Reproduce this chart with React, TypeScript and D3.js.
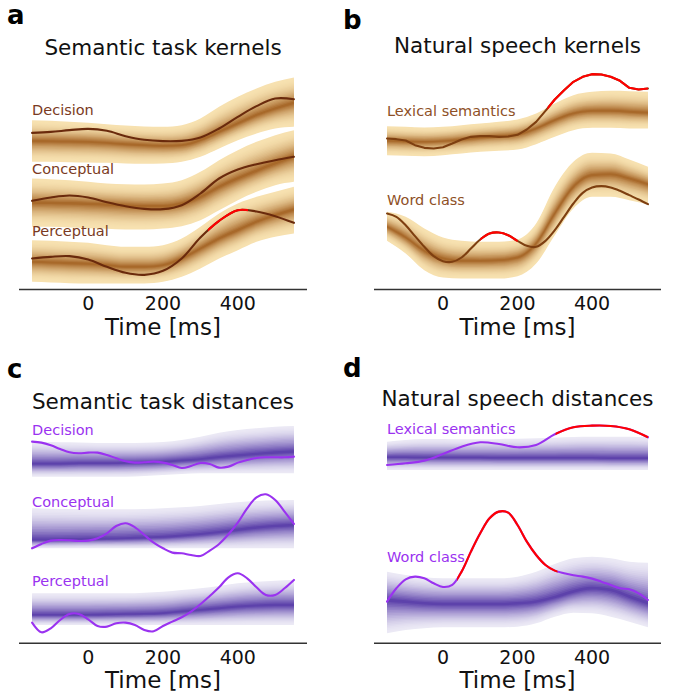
import React from "react";
import * as d3 from "d3";

// ---------- DATA ----------
const T50 = [-150, -100, -50, 0, 50, 100, 150, 200, 250, 300, 350, 400, 450, 500, 550];
const T25 = [-150, -125, -100, -75, -50, -25, 0, 25, 50, 75, 100, 125, 150, 175, 200, 225, 250, 275, 300, 325, 350, 375, 400, 425, 450, 475, 500, 525, 550];
const TICKS = [0, 200, 400];
const X_DOMAIN = [-185, 585];

// Panel a: Semantic task kernels (arbitrary units, stacked)
const aDecisionLine = [470, 473, 478, 482, 476, 460, 449, 445, 446, 456, 483, 518, 550, 573, 571];
const aDecisionMid = [446, 445, 444, 443, 440, 436, 433, 431, 433, 448, 473, 498, 523, 543, 560];
const aDecisionHi = [508, 506, 503, 500, 496, 492, 489, 488, 493, 513, 548, 578, 603, 623, 636];
const aDecisionLo = [383, 383, 382, 381, 380, 378, 377, 378, 383, 398, 423, 448, 468, 483, 488];

const aConceptualLine = [266, 276, 282, 276, 262, 250, 242, 241, 253, 288, 333, 360, 376, 388, 398];
const aConceptualMid = [261, 260, 259, 257, 255, 252, 250, 250, 258, 278, 308, 333, 356, 378, 400];
const aConceptualHi = [333, 331, 328, 323, 318, 316, 315, 318, 328, 353, 388, 418, 443, 463, 478];
const aConceptualLo = [188, 188, 186, 184, 182, 180, 180, 183, 190, 208, 238, 268, 293, 313, 323];

const aPerceptualLine = [93, 98, 100, 90, 68, 50, 44, 56, 93, 156, 206, 238, 234, 220, 200];
const aPerceptualMid = [83, 81, 79, 77, 73, 68, 68, 73, 93, 123, 153, 178, 203, 223, 240];
const aPerceptualHi = [148, 146, 143, 140, 133, 128, 128, 133, 153, 188, 228, 258, 278, 293, 308];
const aPerceptualLo = [23, 21, 19, 18, 18, 18, 18, 23, 38, 63, 93, 118, 143, 158, 168];
const aPerceptualSig = [320, 422];

// Panel b: Natural speech kernels
const bLexicalLine = [453, 451, 447, 433, 425, 423, 427, 438, 450, 458, 460, 460, 458, 459, 464, 480, 503, 536, 570, 598, 623, 638, 646, 645, 638, 626, 605, 600, 603];
const bLexicalMid = [446, 444, 443, 445, 450, 456, 460, 465, 483, 508, 528, 536, 536, 533, 530];
const bLexicalHi = [490, 488, 486, 488, 493, 498, 503, 510, 528, 558, 583, 593, 596, 595, 593];
const bLexicalLo = [403, 401, 400, 403, 408, 413, 416, 420, 436, 458, 478, 485, 485, 483, 483];
const bLexicalSig = [280, 550];

const bWordLine = [228, 218, 193, 160, 128, 100, 85, 83, 96, 123, 150, 168, 171, 163, 146, 131, 128, 146, 178, 218, 258, 290, 306, 310, 306, 296, 283, 270, 256];
const bWordMid = [188, 156, 116, 93, 86, 86, 88, 96, 138, 228, 308, 343, 346, 333, 316];
const bWordHi = [233, 218, 183, 156, 146, 143, 143, 150, 198, 308, 383, 410, 408, 390, 368];
const bWordLo = [146, 108, 58, 36, 33, 33, 33, 40, 78, 163, 243, 278, 278, 268, 256];
const bWordSig = [100, 195];

// Panel c: Semantic task distances
const cDecisionLine = [605, 602, 594, 583, 573, 570, 572, 572, 565, 555, 546, 542, 543, 545, 542, 535, 526, 532, 541, 538, 527, 530, 542, 550, 556, 558, 558, 558, 560];
const cDecisionMid = [538, 538, 539, 540, 540, 541, 542, 544, 548, 552, 558, 563, 568, 572, 575];
const cDecisionHi = [605, 604, 603, 602, 601, 601, 602, 604, 610, 620, 632, 640, 645, 650, 652];
const cDecisionLo = [500, 500, 500, 500, 500, 500, 502, 505, 508, 510, 510, 510, 510, 510, 510];

const cConceptualLine = [285, 298, 308, 310, 309, 307, 308, 315, 330, 352, 360, 348, 325, 302, 285, 272, 270, 265, 262, 278, 298, 327, 362, 405, 438, 447, 430, 395, 358];
const cConceptualMid = [310, 310, 311, 312, 313, 314, 316, 318, 322, 327, 333, 340, 347, 352, 355];
const cConceptualHi = [405, 404, 403, 402, 402, 402, 403, 405, 408, 412, 418, 423, 427, 429, 430];
const cConceptualLo = [285, 285, 285, 285, 285, 285, 285, 285, 285, 285, 285, 285, 285, 285, 285];

const cPerceptualLine = [62, 33, 45, 70, 88, 88, 72, 52, 50, 60, 62, 55, 40, 36, 52, 65, 78, 95, 117, 142, 168, 198, 210, 195, 168, 145, 145, 165, 190];
const cPerceptualMid = [85, 85, 85, 85, 86, 87, 88, 90, 95, 100, 105, 110, 113, 115, 115];
const cPerceptualHi = [150, 150, 150, 150, 150, 150, 152, 155, 160, 165, 172, 180, 185, 188, 190];
const cPerceptualLo = [55, 55, 55, 55, 55, 55, 55, 55, 55, 55, 55, 55, 55, 55, 55];

// Panel d: Natural speech distances
const dLexicalLine = [535, 540, 548, 568, 590, 603, 598, 588, 595, 627, 648, 653, 652, 642, 618];
const dLexicalMid = [558, 558, 557, 557, 557, 557, 556, 556, 556, 556, 556, 556, 555, 555, 555];
const dLexicalHi = [605, 610, 613, 613, 612, 612, 613, 614, 615, 617, 619, 620, 620, 620, 618];
const dLexicalLo = [520, 520, 520, 520, 520, 520, 520, 520, 520, 520, 520, 520, 520, 520, 520];
const dLexicalSig = [302, 550];

const dWordLine = [125, 165, 192, 200, 195, 180, 169, 175, 215, 275, 330, 375, 395, 392, 355, 305, 265, 235, 218, 210, 204, 200, 194, 185, 175, 165, 162, 150, 130];
const dWordMid = [130, 125, 120, 118, 118, 118, 118, 120, 125, 138, 155, 165, 160, 140, 120];
const dWordHi = [215, 205, 198, 195, 195, 195, 195, 200, 215, 238, 255, 260, 255, 245, 242];
const dWordLo = [30, 40, 45, 48, 48, 48, 48, 50, 60, 80, 92, 90, 80, 65, 48];
const dWordSig = [38, 302];

// ---------- STYLE ----------
const FONT = "'DejaVu Sans', Verdana, sans-serif";
const KERNEL_LIGHT = "#f7e1b0";
const KERNEL_DARK = "#a8692a";
const DIST_LIGHT = "#ebe9f5";
const DIST_DARK = "#5d42ab";
const RED = "#ff0000";
const PURPLE = "#9a32f0";

type Trace = {
  label: string;
  lineT: number[];
  line: number[];
  mid: number[];
  hi: number[];
  lo: number[];
  sig?: number[];
  labelY: number; // label baseline, data units
  linear?: boolean;
};

type Panel = {
  letter: string;
  letterX: number;
  letterY: number;
  title: string;
  titleY: number;
  x0: number;
  x1: number;
  axisY: number;
  kind: "kernel" | "dist";
  lineColor: string;
  labelColor: string;
  traces: Trace[];
};

const panels: Panel[] = [
  {
    letter: "a", letterX: 7, letterY: 24,
    title: "Semantic task kernels", titleY: 55,
    x0: 19, x1: 307, axisY: 289.5, kind: "kernel",
    lineColor: "#6a2a0c", labelColor: "#7a3a22",
    traces: [
      { label: "Decision", lineT: T50, line: aDecisionLine, mid: aDecisionMid, hi: aDecisionHi, lo: aDecisionLo, labelY: 523 },
      { label: "Conceptual", lineT: T50, line: aConceptualLine, mid: aConceptualMid, hi: aConceptualHi, lo: aConceptualLo, labelY: 346 },
      { label: "Perceptual", lineT: T50, line: aPerceptualLine, mid: aPerceptualMid, hi: aPerceptualHi, lo: aPerceptualLo, sig: aPerceptualSig, labelY: 161 },
    ],
  },
  {
    letter: "b", letterX: 343, letterY: 29,
    title: "Natural speech kernels", titleY: 53,
    x0: 374, x1: 661, axisY: 289.5, kind: "kernel",
    lineColor: "#7e3f10", labelColor: "#8e5026",
    traces: [
      { label: "Lexical semantics", lineT: T25, line: bLexicalLine, mid: bLexicalMid, hi: bLexicalHi, lo: bLexicalLo, sig: bLexicalSig, labelY: 520, linear: true },
      { label: "Word class", lineT: T25, line: bWordLine, mid: bWordMid, hi: bWordHi, lo: bWordLo, sig: bWordSig, labelY: 254 },
    ],
  },
  {
    letter: "c", letterX: 7, letterY: 378,
    title: "Semantic task distances", titleY: 409,
    x0: 19, x1: 307, axisY: 643.3, kind: "dist",
    lineColor: PURPLE, labelColor: PURPLE,
    traces: [
      { label: "Decision", lineT: T25, line: cDecisionLine, mid: cDecisionMid, hi: cDecisionHi, lo: cDecisionLo, labelY: 625 },
      { label: "Conceptual", lineT: T25, line: cConceptualLine, mid: cConceptualMid, hi: cConceptualHi, lo: cConceptualLo, labelY: 410 },
      { label: "Perceptual", lineT: T25, line: cPerceptualLine, mid: cPerceptualMid, hi: cPerceptualHi, lo: cPerceptualLo, labelY: 172 },
    ],
  },
  {
    letter: "d", letterX: 343, letterY: 377,
    title: "Natural speech distances", titleY: 406,
    x0: 374, x1: 661, axisY: 643.3, kind: "dist",
    lineColor: PURPLE, labelColor: PURPLE,
    traces: [
      { label: "Lexical semantics", lineT: T50, line: dLexicalLine, mid: dLexicalMid, hi: dLexicalHi, lo: dLexicalLo, sig: dLexicalSig, labelY: 628 },
      { label: "Word class", lineT: T25, line: dWordLine, mid: dWordMid, hi: dWordHi, lo: dWordLo, sig: dWordSig, labelY: 243 },
    ],
  },
];

const N_LAYERS = 20;

function PanelView({ p, pi }: { p: Panel; pi: number }) {
  const x = d3.scaleLinear().domain(X_DOMAIN).range([p.x0, p.x1]);
  const y = d3.scaleLinear().domain([0, 750]).range([p.axisY, p.axisY - 250]);
  const light = p.kind === "kernel" ? KERNEL_LIGHT : DIST_LIGHT;
  const dark = p.kind === "kernel" ? KERNEL_DARK : DIST_DARK;
  const interp = d3.interpolateRgb(light, dark);
  const xl = x(-150);
  const expo = p.kind === "kernel" ? 2.0 : 1.6;

  return (
    <g>
      <defs>
        {p.traces.map((tr, ti) =>
          tr.sig ? (
            <clipPath key={ti} id={`sig-${pi}-${ti}`}>
              <rect x={x(tr.sig[0])} y={0} width={x(tr.sig[1]) - x(tr.sig[0]) + 2} height={700} />
            </clipPath>
          ) : null
        )}
      </defs>
      {p.traces.map((tr, ti) => {
        const layers = d3.range(N_LAYERS).map((i) => {
          const f = 1 - i / N_LAYERS;
          const area = d3
            .area<number>()
            .x((_, k) => x(T50[k]))
            .y0((_, k) => y(tr.mid[k] + f * (tr.lo[k] - tr.mid[k])))
            .y1((_, k) => y(tr.mid[k] + f * (tr.hi[k] - tr.mid[k])))
            .curve(d3.curveMonotoneX);
          const c = interp(Math.pow(i / (N_LAYERS - 1), expo));
          return <path key={i} d={area(T50) || ""} fill={c} stroke="none" />;
        });
        return <g key={ti}>{layers}</g>;
      })}
      {p.traces.map((tr, ti) => {
        const line = d3
          .line<number>()
          .x((_, k) => x(tr.lineT[k]))
          .y((v) => y(v))
          .curve(tr.linear ? d3.curveLinear : d3.curveCatmullRom.alpha(0.5));
        const d = line(tr.line) || "";
        return (
          <g key={ti}>
            <path d={d} fill="none" stroke={p.lineColor} strokeWidth={2.1} strokeLinejoin="round" strokeLinecap="round" />
            {tr.sig ? (
              <path d={d} fill="none" stroke={RED} strokeWidth={2.1} strokeLinejoin="round" clipPath={`url(#sig-${pi}-${ti})`} />
            ) : null}
            <text x={xl} y={y(tr.labelY)} fontFamily={FONT} fontSize={14.5} fill={p.labelColor}>
              {tr.label}
            </text>
          </g>
        );
      })}
      <line x1={p.x0} x2={p.x1} y1={p.axisY} y2={p.axisY} stroke="#333" strokeWidth={1.4} />
      {TICKS.map((t) => (
        <text key={t} x={x(t)} y={p.axisY + 20.5} textAnchor="middle" fontFamily={FONT} fontSize={19} fill="#111">
          {t}
        </text>
      ))}
      <text x={(x(-150) + x(550)) / 2} y={p.axisY + 45} textAnchor="middle" fontFamily={FONT} fontSize={23} fill="#111">
        Time [ms]
      </text>
      <text x={(x(-150) + x(550)) / 2} y={p.titleY} textAnchor="middle" fontFamily={FONT} fontSize={21.5} fill="#111">
        {p.title}
      </text>
      <text x={p.letterX} y={p.letterY} fontFamily={FONT} fontWeight="bold" fontSize={26} fill="#000">
        {p.letter}
      </text>
    </g>
  );
}

export default function App() {
  return (
    <svg
      width={673}
      height={700}
      viewBox="0 0 673 700"
      style={{ position: "absolute", left: 0, top: 0, background: "#fff" }}
    >
      <rect width={673} height={700} fill="#fff" />
      {panels.map((p, i) => (
        <PanelView key={i} p={p} pi={i} />
      ))}
    </svg>
  );
}
